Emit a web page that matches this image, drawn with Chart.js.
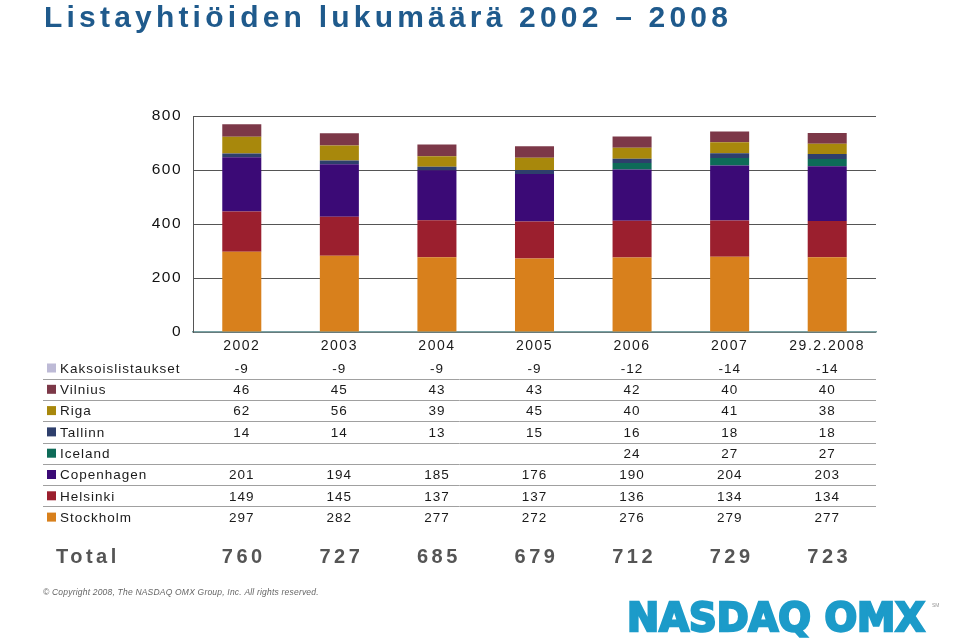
<!DOCTYPE html>
<html>
<head>
<meta charset="utf-8">
<script src="https://cdn.jsdelivr.net/npm/chart.js@4"></script>
<style>
  body { margin: 0; background: #fff; }
  #wrap { width: 960px; height: 640px; position: relative; }
</style>
</head>
<body>
<div id="wrap"><canvas id="c"></canvas></div>
<script>
let years = ['2002', '2003', '2004', '2005', '2006', '2007', '29.2.2008'];
let stockholm = [297, 282, 277, 272, 276, 279, 277];
let helsinki = [149, 145, 137, 137, 136, 134, 134];
let copenhagen = [201, 194, 185, 176, 190, 204, 203];
let iceland = [null, null, null, null, 24, 27, 27];
let tallinn = [14, 14, 13, 15, 16, 18, 18];
let riga = [62, 56, 39, 45, 40, 41, 38];
let vilnius = [46, 45, 43, 43, 42, 40, 40];
let kaksois = [-9, -9, -9, -9, -12, -14, -14];
let totals = [760, 727, 685, 679, 712, 729, 723];
let yTicks = [0, 200, 400, 600, 800];

Chart.defaults.font.family = '"Liberation Sans", Arial, sans-serif';

// bottom of the stack first
const series = [
    { label: 'Stockholm', data: stockholm, color: '#D8801C' },
    { label: 'Helsinki', data: helsinki, color: '#9B1F2E' },
    { label: 'Copenhagen', data: copenhagen, color: '#3B0A76' },
    { label: 'Iceland', data: iceland, color: '#0E6B58' },
    { label: 'Tallinn', data: tallinn, color: '#2E3F6C' },
    { label: 'Riga', data: riga, color: '#A8880C' },
    { label: 'Vilnius', data: vilnius, color: '#7C3848' },
    { label: 'Kaksoislistaukset', data: kaksois, color: '#BDBAD6' }
];

// table, title, totals and logo drawn on the same canvas
const tablePlugin = {
    id: 'tablePlugin',
    beforeDraw(chart) {
        chart.ctx.letterSpacing = '1.5px';
    },
    afterDraw(chart) {
        const ctx = chart.ctx;
        const xs = chart.scales.x;
        ctx.save();

        // title
        ctx.letterSpacing = '4.2px';
        ctx.fillStyle = '#1F5A8C';
        ctx.font = 'bold 30px "Liberation Sans", Arial';
        ctx.textAlign = 'left';
        ctx.textBaseline = 'alphabetic';
        ctx.fillText('Listayhtiöiden lukumäärä 2002 – 2008', 44, 27);

        // rows, top row is the last dataset
        const rows = series.slice().reverse();
        const rowTop = 368, rowStep = 21.3;
        ctx.strokeStyle = '#a0a0a0';
        ctx.lineWidth = 1;
        for (let r = 1; r < rows.length; r++) {
            const ly = Math.round(rowTop + (r - 0.5) * rowStep) + 0.5;
            ctx.beginPath();
            ctx.moveTo(43, ly);
            ctx.lineTo(876, ly);
            ctx.stroke();
        }
        ctx.font = '13.5px "Liberation Sans", Arial';
        ctx.letterSpacing = '1px';
        ctx.textBaseline = 'middle';
        rows.forEach((s, r) => {
            const y = rowTop + r * rowStep;
            ctx.fillStyle = s.color;
            ctx.fillRect(47, y - 4.5, 9, 9);
            ctx.fillStyle = '#1a1a1a';
            ctx.textAlign = 'left';
            ctx.fillText(s.label, 60, y + 1);
            ctx.textAlign = 'center';
            s.data.forEach((v, i) => {
                if (v === null) return;
                ctx.fillText(String(v), xs.getPixelForValue(i), y + 1);
            });
        });

        // totals
        ctx.fillStyle = '#555';
        ctx.font = 'bold 20px "Liberation Sans", Arial';
        ctx.letterSpacing = '3.5px';
        ctx.textAlign = 'left';
        ctx.fillText('Total', 56, 557);
        ctx.textAlign = 'center';
        totals.forEach((t, i) => {
            ctx.fillText(String(t), xs.getPixelForValue(i) + 2, 557);
        });

        // copyright
        ctx.letterSpacing = '0.2px';
        ctx.fillStyle = '#666';
        ctx.font = 'italic 8.5px "Liberation Sans", Arial';
        ctx.textAlign = 'left';
        ctx.fillText('© Copyright 2008, The NASDAQ OMX Group, Inc. All rights reserved.', 43, 593);

        // logo
        ctx.letterSpacing = '0px';
        ctx.font = 'bold 40px "DejaVu Sans"';
        ctx.textBaseline = 'alphabetic';
        const w = ctx.measureText('NASDAQ OMX').width;
        ctx.translate(627, 631);
        ctx.scale(298 / w, 0.97);
        ctx.fillStyle = '#1C9BC9';
        ctx.strokeStyle = '#1C9BC9';
        ctx.lineWidth = 2.5;
        ctx.fillText('NASDAQ OMX', 0, 0);
        ctx.strokeText('NASDAQ OMX', 0, 0);
        ctx.setTransform(1, 0, 0, 1, 0, 0);
        ctx.fillStyle = '#999';
        ctx.font = '5px "Liberation Sans", Arial';
        ctx.fillText('SM', 932, 607);

        ctx.restore();
    }
};

const ctx = document.getElementById('c').getContext('2d');
const chart = new Chart(ctx, {
    type: 'bar',
    data: {
        labels: years,
        datasets: series.map(s => ({
            label: s.label,
            data: s.data,
            backgroundColor: s.color,
            borderWidth: 0,
            barPercentage: 0.4,
            categoryPercentage: 1
        }))
    },
    options: {
        responsive: true,
        maintainAspectRatio: false,
        animation: false,
        layout: {
            padding: { left: 0, right: 84, top: 116, bottom: 0 }
        },
        scales: {
            x: {
                stacked: true,
                grid: { display: false, drawTicks: false },
                border: { display: true, color: '#7aa2a4', width: 1.5 },
                ticks: { color: '#1a1a1a', font: { size: 14 }, padding: 6, maxRotation: 0, autoSkip: false },
                afterFit(scale) { scale.height = 308; }
            },
            y: {
                stacked: true,
                min: 0,
                max: 800,
                afterBuildTicks(scale) { scale.ticks = yTicks.map(v => ({ value: v })); },
                grid: { color: '#555', lineWidth: 1, drawTicks: false },
                border: { display: true, color: '#555' },
                ticks: { color: '#111', font: { size: 15.5 }, padding: 11 },
                afterFit(scale) { scale.width = 193; }
            }
        },
        plugins: {
            legend: { display: false },
            tooltip: { enabled: false }
        }
    },
    plugins: [tablePlugin]
});
</script>
</body>
</html>
